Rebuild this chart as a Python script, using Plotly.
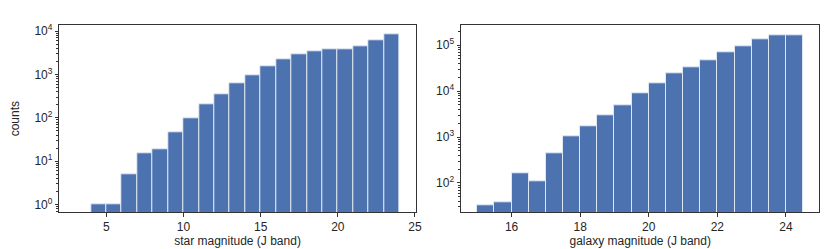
import plotly.graph_objects as go

# star histogram: bins of width 1 from 3 to 24 (first bin empty)
star_edges = [3, 4, 5, 6, 7, 8, 9, 10, 11, 12, 13, 14, 15, 16, 17, 18, 19, 20, 21, 22, 23, 24]
star_counts = [0, 1, 1, 5, 15, 19, 46, 96, 205, 350, 625, 960, 1570, 2280, 2930,
               3500, 3820, 3900, 4600, 6100, 8550]

# galaxy histogram: bins of width 0.5 from 15 to 24.5
gal_edges = [15, 15.5, 16, 16.5, 17, 17.5, 18, 18.5, 19, 19.5, 20, 20.5, 21, 21.5,
             22, 22.5, 23, 23.5, 24, 24.5]
gal_counts = [33, 37, 159, 107, 440, 1010, 1700, 2900, 5000, 8900, 14800, 23800,
              33600, 47600, 68400, 94600, 136000, 160000, 163000]

star_ticks = [5, 10, 15, 20, 25]
gal_ticks = [16, 18, 20, 22, 24]
star_decades = [0, 1, 2, 3, 4]
gal_decades = [2, 3, 4, 5]

W, H = 830, 249
BAR = '#4C72B0'
FONT = 'Arial, Liberation Sans, sans-serif'
TXT = '#262626'


def centers(edges):
    return [(a + b) / 2 for a, b in zip(edges[:-1], edges[1:])]


def widths(edges):
    return [b - a for a, b in zip(edges[:-1], edges[1:])]


def minor_vals(lo, hi):
    return [m * 10 ** k for k in range(lo, hi + 1) for m in range(2, 10)]


fig = go.Figure()

for edges, counts, xa, ya in [(star_edges, star_counts, 'x', 'y'),
                              (gal_edges, gal_counts, 'x2', 'y2')]:
    fig.add_trace(go.Bar(
        x=centers(edges), y=counts, width=widths(edges),
        marker=dict(color=BAR, line=dict(color='rgba(230,236,245,0.9)', width=1)),
        xaxis=xa, yaxis=ya, showlegend=False,
    ))

# domains in paper coords (pixel measurements from the reference)
ydom = [1 - 203.5 / H, 1 - 14.5 / H]
xdom1 = [51.7 / W, 410.7 / W]
xdom2 = [456.3 / W, 817.3 / W]

axis_common = dict(
    showline=True, linecolor='#333333', linewidth=1, mirror=True,
    ticks='outside', ticklen=3.5, tickwidth=0.8, tickcolor='#333333',
    showgrid=False, zeroline=False,
    tickfont=dict(family=FONT, size=12, color=TXT),
)
title_font = dict(family=FONT, size=12, color=TXT)


def minor_y(lo, hi):
    return dict(ticks='outside', ticklen=2.5, tickwidth=0.7, tickcolor='#333333',
                tickmode='array', tickvals=minor_vals(lo, hi), showgrid=False)


def decade_text(ds):
    return ['10<sup>%d</sup>' % d for d in ds]


fig.update_layout(
    width=W, height=H,
    margin=dict(l=0, r=0, t=0, b=0),
    paper_bgcolor='white', plot_bgcolor='white',
    bargap=0,
    font=dict(family=FONT, size=12, color=TXT),
    xaxis=dict(domain=xdom1, range=[1.95, 25.05], tickvals=star_ticks,
               anchor='y',
               title=dict(text='star magnitude (J band)', standoff=1, font=title_font),
               **axis_common),
    yaxis=dict(domain=ydom, type='log', range=[-0.174, 4.137],
               tickvals=[10 ** d for d in star_decades], ticktext=decade_text(star_decades),
               anchor='x', minor=minor_y(-1, 4),
               title=dict(text='counts', standoff=12, font=title_font),
               **axis_common),
    xaxis2=dict(domain=xdom2, range=[14.525, 24.975], tickvals=gal_ticks,
                anchor='y2',
                title=dict(text='galaxy magnitude (J band)', standoff=1, font=title_font),
                **axis_common),
    yaxis2=dict(domain=ydom, type='log', range=[1.367, 5.43],
                tickvals=[10 ** d for d in gal_decades], ticktext=decade_text(gal_decades),
                anchor='x2', minor=minor_y(1, 5),
                **axis_common),
)

fig.write_html("out.html")
